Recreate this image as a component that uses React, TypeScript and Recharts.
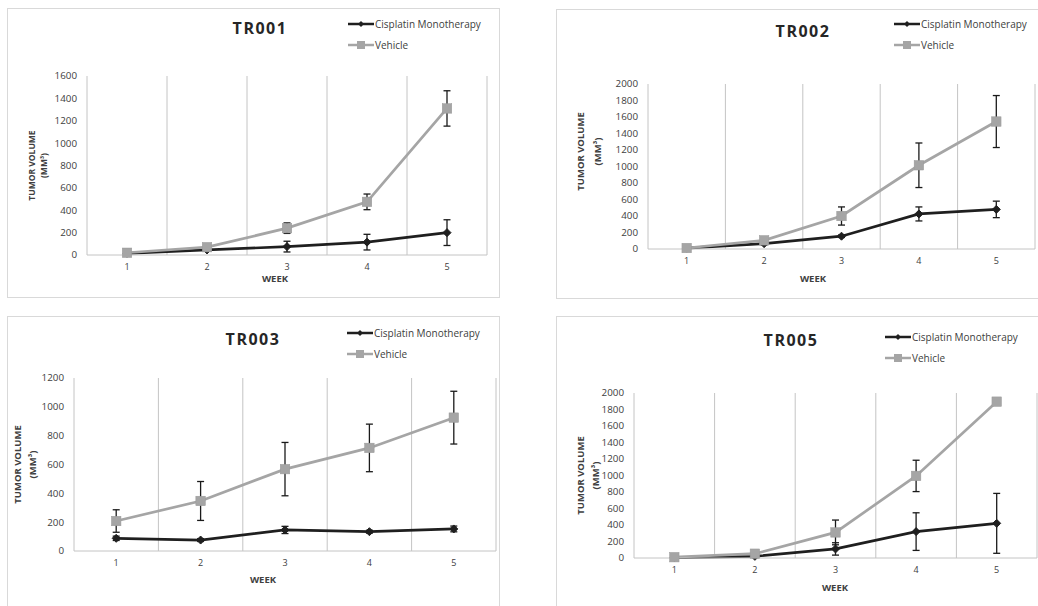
import React from 'react';
import { LineChart, Line, XAxis, YAxis, ErrorBar, ReferenceLine, Legend } from 'recharts';

const weeks = [1, 2, 3, 4, 5];
const weekBoundaries = [1.5, 2.5, 3.5, 4.5, 5.5];
const seriesNames = ['Cisplatin Monotherapy', 'Vehicle'];

const tr001Cis = [15, 45, 75, 115, 200];
const tr001CisErr = [5, 10, 48, 70, 115];
const tr001Veh = [20, 70, 240, 475, 1310];
const tr001VehErr = [5, 10, 47, 70, 158];
const tr001Ticks = [0, 200, 400, 600, 800, 1000, 1200, 1400, 1600];

const tr002Cis = [10, 65, 155, 425, 480];
const tr002CisErr = [5, 15, 15, 85, 100];
const tr002Veh = [12, 105, 400, 1015, 1545];
const tr002VehErr = [5, 15, 110, 270, 315];
const tr002Ticks = [0, 200, 400, 600, 800, 1000, 1200, 1400, 1600, 1800, 2000];

const tr003Cis = [88, 76, 146, 134, 153];
const tr003CisErr = [15, 10, 25, 10, 20];
const tr003Veh = [208, 347, 568, 715, 925];
const tr003VehErr = [78, 135, 185, 165, 183];
const tr003Ticks = [0, 200, 400, 600, 800, 1000, 1200];

const tr005Cis = [5, 20, 110, 320, 420];
const tr005CisErr = [3, 10, 75, 228, 363];
const tr005Veh = [10, 52, 310, 995, 1895];
const tr005VehErr = [5, 10, 150, 190, 0];
const tr005Ticks = [0, 200, 400, 600, 800, 1000, 1200, 1400, 1600, 1800, 2000];

const FONT = '"Open Sans", "Noto Sans", sans-serif';
const CIS_COLOR = '#1f1f1f';
const VEH_COLOR = '#a5a5a5';
const GRID = '#c4c4c4';
const TEXT = '#404040';

const build = (cis: number[], cisErr: number[], veh: number[], vehErr: number[]) =>
  weeks.map((w, i) => ({ week: w, cis: cis[i], cisErr: cisErr[i], veh: veh[i], vehErr: vehErr[i] }));

const Diamond = (props: any) => {
  const { cx, cy } = props;
  if (cx == null || cy == null) return null;
  const r = 4;
  return <polygon points={`${cx},${cy - r} ${cx + r},${cy} ${cx},${cy + r} ${cx - r},${cy}`} fill={CIS_COLOR} stroke={CIS_COLOR} strokeWidth={1} />;
};

const Square = (props: any) => {
  const { cx, cy } = props;
  if (cx == null || cy == null) return null;
  const s = 9.5;
  return <rect x={cx - s / 2} y={cy - s / 2} width={s} height={s} fill={VEH_COLOR} stroke="#999" strokeWidth={0.5} />;
};

const LegendContent = (props: any) => {
  const { payload } = props;
  return (
    <div style={{ fontFamily: FONT, fontSize: 10, color: TEXT }}>
      {(payload || []).map((p: any) => (
        <div key={p.value} style={{ display: 'flex', alignItems: 'center', height: 21, whiteSpace: 'nowrap' }}>
          <svg width={26} height={12}>
            <line x1={0} y1={6} x2={26} y2={6} stroke={p.color} strokeWidth={2.5} />
            {p.dataKey === 'cis' ? (
              <polygon points="13,3 16,6 13,9 10,6" fill={p.color} />
            ) : (
              <rect x={9} y={2} width={8} height={8} fill={p.color} />
            )}
          </svg>
          <span style={{ marginLeft: 1 }}>{p.value}</span>
        </div>
      ))}
    </div>
  );
};

type Cfg = {
  title: string;
  data: any[];
  ticks: number[];
  box: { left: number; top: number; width: number; height: number };
  margin: { top: number; right: number; bottom: number; left: number };
  titlePos: { x: number; y: number };
  legendPos: { x: number; y: number };
  yLab: { dx1: number; dx2: number; dy: number; size: number };
  week: { dx: number; dy: number };
};

const Y_AXIS_W = 30;
const X_AXIS_H = 20;

const Panel = ({ cfg }: { cfg: Cfg }) => {
  const { box } = cfg;
  const yLabel = (props: any) => {
    const vb = props.viewBox || {};
    const axisX = (vb.x || 0) + (vb.width || 0);
    const cy = (vb.y || 0) + (vb.height || 0) / 2 + cfg.yLab.dy;
    const x1 = axisX + cfg.yLab.dx1;
    const x2 = axisX + cfg.yLab.dx2;
    const st = { fontFamily: FONT, fontSize: cfg.yLab.size, fontWeight: 700, fill: TEXT } as any;
    return (
      <g>
        <text x={x1} y={cy} transform={`rotate(-90, ${x1}, ${cy})`} textAnchor="middle" dominantBaseline="central" style={st}>TUMOR VOLUME</text>
        <text x={x2} y={cy} transform={`rotate(-90, ${x2}, ${cy})`} textAnchor="middle" dominantBaseline="central" style={st}>(MM³)</text>
      </g>
    );
  };
  const xLabel = (props: any) => {
    const vb = props.viewBox || {};
    const x = (vb.x || 0) + cfg.week.dx;
    const y = (vb.y || 0) + cfg.week.dy;
    return (
      <text x={x} y={y} textAnchor="middle" dominantBaseline="central" style={{ fontFamily: FONT, fontSize: 9.5, fontWeight: 700, fill: TEXT }}>WEEK</text>
    );
  };
  return (
    <div style={{ position: 'absolute', left: box.left, top: box.top, width: box.width, height: box.height }}>
      <div style={{ position: 'absolute', left: 0, top: 0, width: box.width, height: box.height, border: '1px solid #d9d9d9', boxSizing: 'border-box' }} />
      <div style={{ position: 'absolute', left: 0, top: 0 }}>
        <LineChart width={box.width} height={box.height} data={cfg.data} margin={cfg.margin}>
          {weekBoundaries.map((b) => (
            <ReferenceLine key={b} x={b} stroke={GRID} strokeWidth={1} ifOverflow="extendDomain" />
          ))}
          <XAxis
            dataKey="week"
            type="number"
            domain={[0.5, 5.5]}
            ticks={weeks}
            height={X_AXIS_H}
            tickLine={false}
            tickMargin={3}
            axisLine={{ stroke: GRID, strokeWidth: 1 }}
            tick={{ fontFamily: FONT, fontSize: 9, fill: TEXT }}
            label={xLabel}
          />
          <YAxis
            type="number"
            domain={[cfg.ticks[0], cfg.ticks[cfg.ticks.length - 1]]}
            ticks={cfg.ticks}
            interval={0}
            width={Y_AXIS_W}
            tickLine={false}
            tickMargin={4}
            axisLine={{ stroke: GRID, strokeWidth: 1 }}
            tick={{ fontFamily: FONT, fontSize: 9.8, fill: TEXT }}
            label={yLabel}
          />
          <Legend
            layout="horizontal"
            verticalAlign="middle"
            align="center"
            content={LegendContent}
            wrapperStyle={{ position: 'absolute', left: cfg.legendPos.x, top: cfg.legendPos.y, width: 'auto', height: 'auto' }}
          />
          <Line
            dataKey="cis"
            name={seriesNames[0]}
            stroke={CIS_COLOR}
            strokeWidth={2.7}
            dot={Diamond}
            activeDot={false}
            isAnimationActive={false}
          >
            <ErrorBar dataKey="cisErr" width={3.5} stroke="#1a1a1a" strokeWidth={1.3} direction="y" isAnimationActive={false} />
          </Line>
          <Line
            dataKey="veh"
            name={seriesNames[1]}
            stroke={VEH_COLOR}
            strokeWidth={2.7}
            dot={Square}
            activeDot={false}
            isAnimationActive={false}
          >
            <ErrorBar dataKey="vehErr" width={3.5} stroke="#1a1a1a" strokeWidth={1.3} direction="y" isAnimationActive={false} />
          </Line>
        </LineChart>
      </div>
      <div
        style={{
          position: 'absolute',
          left: cfg.titlePos.x,
          top: cfg.titlePos.y,
          transform: 'translate(-50%, -50%)',
          fontFamily: FONT,
          fontWeight: 700,
          fontSize: 16,
          letterSpacing: 1.5,
          color: '#262626',
          whiteSpace: 'nowrap',
        }}
      >
        {cfg.title}
      </div>
    </div>
  );
};

const mk = (
  title: string,
  data: any[],
  ticks: number[],
  box: Cfg['box'],
  plot: { left: number; top: number; right: number; bottom: number },
  titlePos: Cfg['titlePos'],
  legendPos: Cfg['legendPos'],
  yLab: Cfg['yLab'],
  week: Cfg['week']
): Cfg => ({
  title,
  data,
  ticks,
  box,
  margin: {
    left: plot.left - box.left - Y_AXIS_W,
    top: plot.top - box.top,
    right: box.left + box.width - plot.right,
    bottom: box.top + box.height - plot.bottom - X_AXIS_H,
  },
  titlePos,
  legendPos,
  yLab,
  week,
});

const panels: Cfg[] = [
  mk('TR001', build(tr001Cis, tr001CisErr, tr001Veh, tr001VehErr), tr001Ticks,
    { left: 7, top: 8, width: 493, height: 290 },
    { left: 87, top: 76, right: 487, bottom: 255 },
    { x: 253, y: 20 }, { x: 341, y: 5 },
    { dx1: -56, dx2: -44, dy: 0, size: 8.5 }, { dx: 188, dy: 23 }),
  mk('TR002', build(tr002Cis, tr002CisErr, tr002Veh, tr002VehErr), tr002Ticks,
    { left: 556, top: 9, width: 490, height: 290 },
    { left: 648, top: 84, right: 1035, bottom: 249 },
    { x: 247, y: 22 }, { x: 338, y: 4 },
    { dx1: -68, dx2: -51, dy: -15, size: 9.5 }, { dx: 165, dy: 29 }),
  mk('TR003', build(tr003Cis, tr003CisErr, tr003Veh, tr003VehErr), tr003Ticks,
    { left: 7, top: 316, width: 493, height: 300 },
    { left: 74, top: 378, right: 496, bottom: 551 },
    { x: 246, y: 23 }, { x: 340, y: 6 },
    { dx1: -57, dx2: -42, dy: 0, size: 9.5 }, { dx: 189, dy: 28 }),
  mk('TR005', build(tr005Cis, tr005CisErr, tr005Veh, tr005VehErr), tr005Ticks,
    { left: 556, top: 316, width: 490, height: 300 },
    { left: 634, top: 393, right: 1037, bottom: 558 },
    { x: 235, y: 24 }, { x: 329, y: 10 },
    { dx1: -54, dx2: -39, dy: 0, size: 9.5 }, { dx: 201, dy: 29 }),
];

export default function App() {
  return (
    <div style={{ position: 'absolute', left: 0, top: 0, width: 1038, height: 606, overflow: 'hidden', background: '#fff' }}>
      {panels.map((p) => (
        <Panel key={p.title} cfg={p} />
      ))}
    </div>
  );
}
